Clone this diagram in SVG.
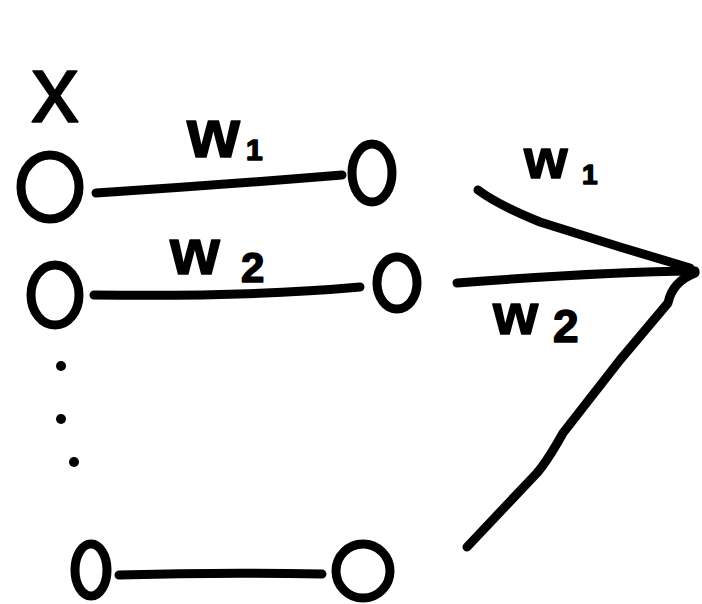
<svg xmlns="http://www.w3.org/2000/svg" width="702" height="604" viewBox="0 0 702 604">
<style>
.n{fill:none;stroke:#000;stroke-width:9;stroke-linecap:round;stroke-linejoin:round}
.e{fill:none;stroke:#000;stroke-width:9;stroke-linecap:round;stroke-linejoin:round}
.t{font-family:"Liberation Sans",Arial,sans-serif;font-weight:bold;fill:#000;stroke:#000;stroke-width:1.5;stroke-linejoin:round}
.d{fill:#000}
</style>
<rect width="702" height="604" fill="#fff"/>
<g id="connectors">
<path class="e" d="M96,193 Q220,185 342,175"/>
<path class="e" d="M94,295 Q250,297 360,287"/>
<path class="e" d="M119,575 Q220,572 322,574"/>
<path class="e" d="M478,190 Q498,205 540,222 L620,247 L690,268"/>
<path class="e" d="M457,283 Q600,272 695,271"/>
<path class="e" d="M695,273 Q672,282 668,303 L620,360 L563,433 Q548,460 537,473 L467,547"/>
</g>
<g id="label-x"><text class="t" x="55" y="122" font-size="96" text-anchor="middle" style="font-weight:normal">x</text></g>
<g id="label-w1-left"><text class="t" x="187" y="157" font-size="68">w<tspan x="246" y="160" font-size="30">1</tspan></text></g>
<g id="label-w2-left"><text class="t" x="170" y="274" font-size="64">w<tspan x="241" y="282" font-size="42">2</tspan></text></g>
<g id="label-w1-right"><text class="t" x="524" y="178" font-size="56">w<tspan x="582" y="184" font-size="28">1</tspan></text></g>
<g id="label-w2-right"><text class="t" x="493" y="334" font-size="58">w<tspan x="553" y="342" font-size="46">2</tspan></text></g>
<g id="node-in1"><ellipse class="n" cx="50" cy="187" rx="29" ry="32"/></g>
<g id="node-in2"><ellipse class="n" cx="55" cy="295" rx="24" ry="30"/></g>
<g id="node-inN"><ellipse class="n" cx="91" cy="570" rx="16" ry="26"/></g>
<g id="node-h1"><ellipse class="n" cx="372" cy="173" rx="20" ry="29"/></g>
<g id="node-h2"><ellipse class="n" cx="397" cy="283" rx="20" ry="26"/></g>
<g id="node-hN"><ellipse class="n" cx="363" cy="571" rx="27" ry="27"/></g>
<g id="dots">
<circle class="d" cx="61" cy="366" r="5"/>
<circle class="d" cx="61" cy="419" r="5"/>
<circle class="d" cx="74" cy="462" r="5"/>
</g>
</svg>
